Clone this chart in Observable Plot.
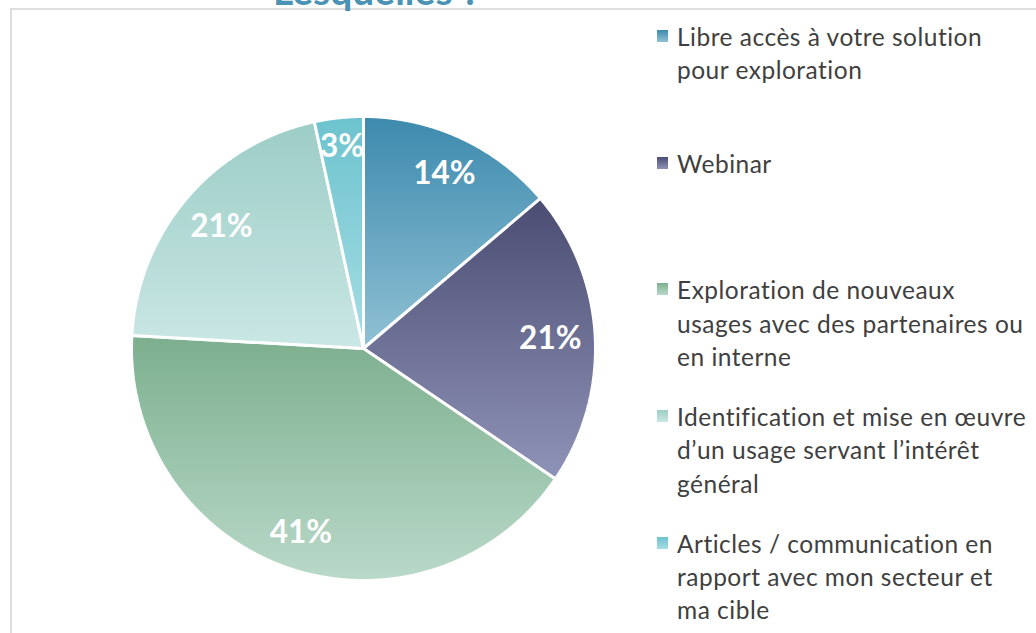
<!DOCTYPE html>
<html>
<head>
<meta charset="utf-8">
<script src="https://cdn.jsdelivr.net/npm/d3@7"></script>
<script src="https://cdn.jsdelivr.net/npm/@observablehq/plot@0.6"></script>
<style>
  html, body { margin: 0; padding: 0; background: #fff; }
  #wrap { position: relative; width: 1036px; height: 633px; overflow: hidden; background: #fff; font-family: Lato, "Open Sans", sans-serif; font-variant-ligatures: none; }
  #frame { position: absolute; left: 10px; top: 8px; width: 1100px; height: 700px; border-left: 2px solid #dedede; border-top: 2px solid #dedede; }
  #chart { position: absolute; left: 0; top: 0; }
  #title { position: absolute; left: 273px; top: -28.6px; font-family: Lato, sans-serif; font-weight: bold; font-size: 39px; line-height: 39px; color: #4a93b4; white-space: nowrap; }
  .leg { position: absolute; left: 677px; font-family: Lato, sans-serif; font-size: 24.5px; letter-spacing: 0.5px; line-height: 33.3px; color: #404040; white-space: nowrap; }
  .sw { position: absolute; left: -20px; width: 11px; height: 12px; }
</style>
</head>
<body>
<div id="wrap">
  <div id="frame"></div>
  <div id="chart"></div>
  <div id="title">Lesquelles ?</div>
</div>
<script>
// ---- data ----
const categories = [
  "Libre accès à votre solution pour exploration",
  "Webinar",
  "Exploration de nouveaux usages avec des partenaires ou en interne",
  "Identification et mise en œuvre d’un usage servant l’intérêt général",
  "Articles / communication en rapport avec mon secteur et ma cible"
];
const shares = [13.8, 20.7, 41.4, 20.7, 3.4];
const legendLines = [
  ["Libre accès à votre solution", "pour exploration"],
  ["Webinar"],
  ["Exploration de nouveaux", "usages avec des partenaires ou", "en interne"],
  ["Identification et mise en œuvre", "d’un usage servant l’intérêt", "général"],
  ["Articles / communication en", "rapport avec mon secteur et", "ma cible"]
];

// ---- styles ----
const gradTop = ["#3d8aae", "#4a4c72", "#7caf8e", "#9ccdc6", "#6cc3ce"];
const gradBottom = ["#90c1d4", "#9093b8", "#b9d9c9", "#cae7e5", "#a8dde4"];
const R = 232, CX = 363, CY = 348;

const data = categories.map((c, i) => ({cat: c, share: shares[i]}));
const arcs = d3.pie().sort(null).value(d => d.share)(data);

// polygon outline of each slice (unit circle coordinates, y up)
const pts = [];
arcs.forEach(a => {
  const cat = a.data.cat;
  pts.push({cat, x: 0, y: 0});
  const n = Math.max(2, Math.ceil((a.endAngle - a.startAngle) / 0.004));
  for (let k = 0; k <= n; k++) {
    const t = a.startAngle + (a.endAngle - a.startAngle) * k / n;
    pts.push({cat, x: Math.sin(t), y: Math.cos(t)});
  }
  pts.push({cat, x: 0, y: 0});
});

// label positions: keep farthest label corner at a fixed distance from center
const T = 217;
const labels = arcs.map(a => {
  const m = (a.startAngle + a.endAngle) / 2;
  const ux = Math.sin(m), uy = Math.cos(m);
  const txt = Math.round(a.data.share) + "%";
  const hw = txt.length * 9.7, hh = 12;
  const b = hw * Math.abs(ux) + hh * Math.abs(uy);
  const r = -b + Math.sqrt(b * b - (hw * hw + hh * hh - T * T));
  return {x: ux * r / R, y: uy * r / R, text: txt};
});

const plot = Plot.plot({
  width: 1036,
  height: 633,
  margin: 0,
  style: {background: "transparent"},
  x: {domain: [-1, 1], range: [CX - R, CX + R], axis: null},
  y: {domain: [-1, 1], range: [CY + R, CY - R], axis: null},
  color: {domain: categories, range: categories.map((_, i) => `url(#g${i})`)},
  marks: [
    Plot.line(pts, {x: "x", y: "y", z: "cat", fill: "cat", stroke: "white", strokeWidth: 3, strokeLinejoin: "miter"}),
    Plot.text(labels, {x: "x", y: "y", text: "text", fill: "white", fontSize: 31.5, fontWeight: "bold", fontFamily: "Lato, sans-serif", lineAnchor: "middle", textAnchor: "middle"})
  ]
});

// gradients
const ns = "http://www.w3.org/2000/svg";
const defs = document.createElementNS(ns, "defs");
categories.forEach((_, i) => {
  const g = document.createElementNS(ns, "linearGradient");
  g.setAttribute("id", "g" + i);
  g.setAttribute("x1", "0"); g.setAttribute("y1", "0");
  g.setAttribute("x2", "0"); g.setAttribute("y2", "1");
  [[0, gradTop[i]], [1, gradBottom[i]]].forEach(([o, c]) => {
    const s = document.createElementNS(ns, "stop");
    s.setAttribute("offset", o);
    s.setAttribute("stop-color", c);
    g.appendChild(s);
  });
  defs.appendChild(g);
});
plot.insertBefore(defs, plot.firstChild);
document.getElementById("chart").appendChild(plot);

// legend
const wrap = document.getElementById("wrap");
legendLines.forEach((lines, i) => {
  const baseline = 46 + i * 126.75;
  const div = document.createElement("div");
  div.className = "leg";
  div.style.top = (baseline - 26.1) + "px";
  div.innerHTML = lines.map(l => l.replace(/&/g, "&amp;")).join("<br>");
  const sw = document.createElement("div");
  sw.className = "sw";
  sw.style.top = "10px";
  sw.style.background = `linear-gradient(${gradTop[i]}, ${gradBottom[i]})`;
  div.appendChild(sw);
  wrap.appendChild(div);
});
</script>
</body>
</html>
